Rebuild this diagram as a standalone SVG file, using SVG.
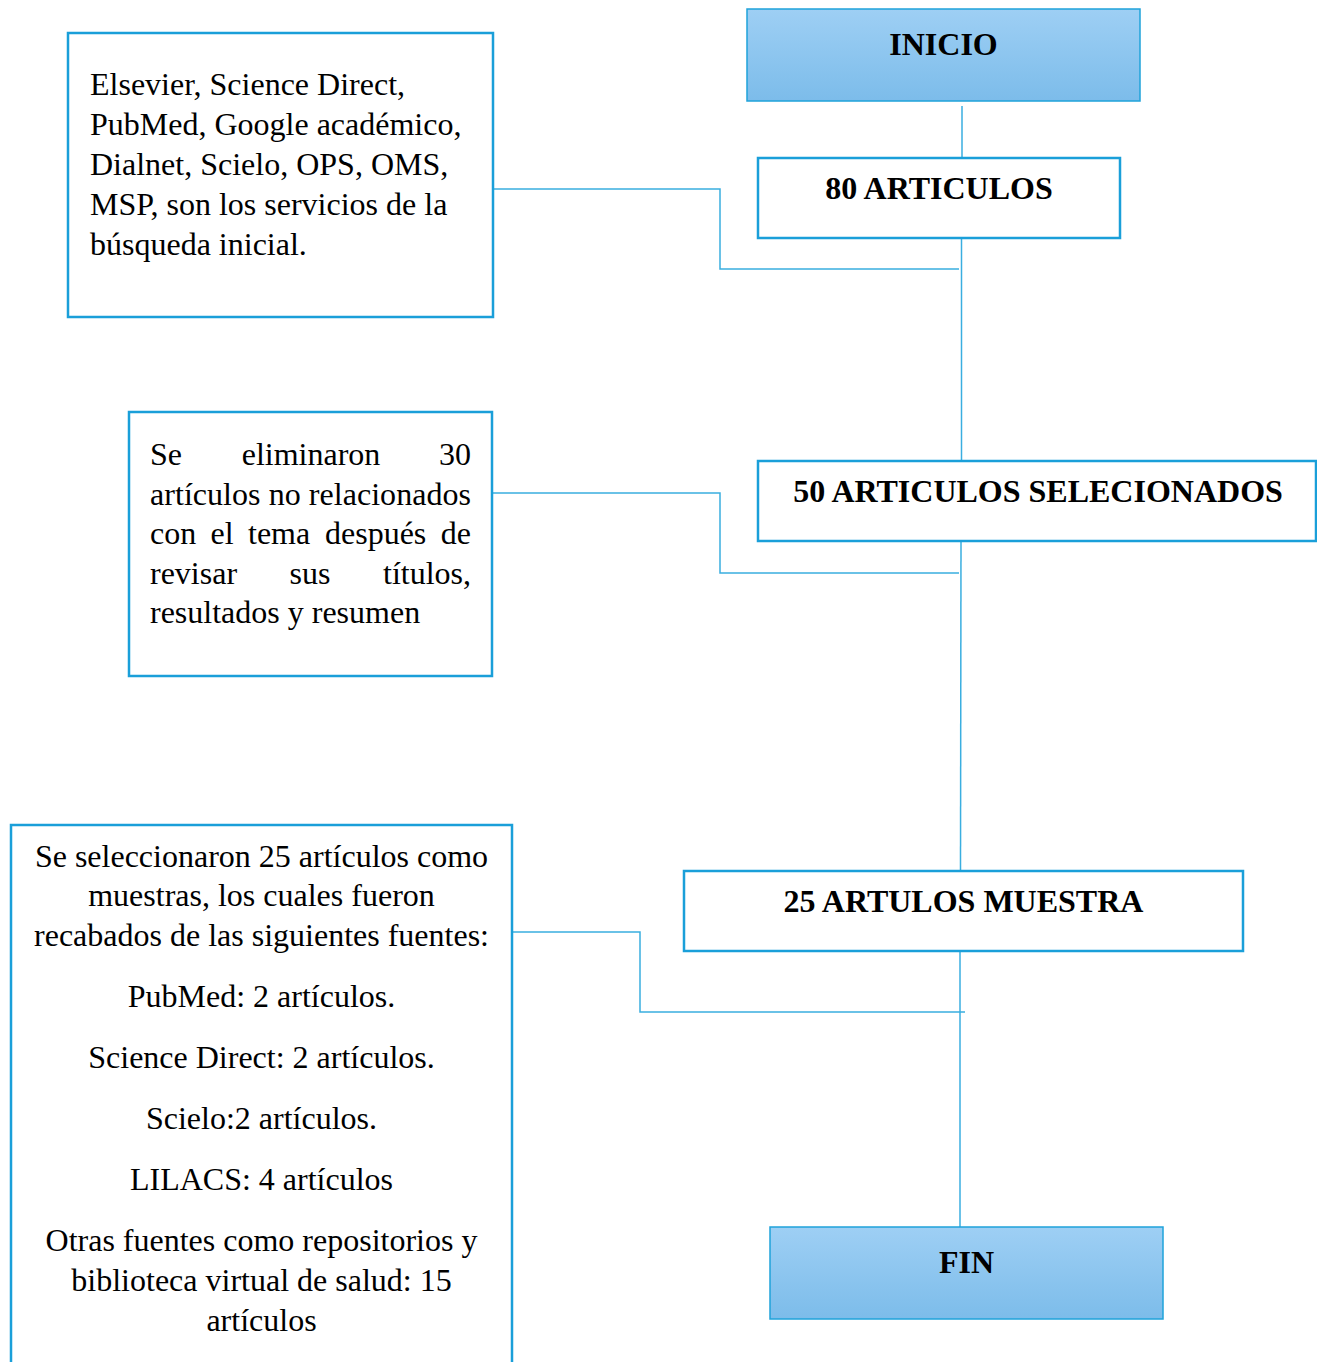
<svg xmlns="http://www.w3.org/2000/svg" width="1317" height="1362" viewBox="0 0 1317 1362">
<defs>
<linearGradient id="g" x1="0" y1="0" x2="0" y2="1">
<stop offset="0" stop-color="#9ecff4"/>
<stop offset="1" stop-color="#7cbcea"/>
</linearGradient>
<style>
.box{fill:#fff;stroke:#1a9fd9;stroke-width:2.5}
.gbox{fill:url(#g);stroke:#1fa3da;stroke-width:1.5}
.t{font-family:"Liberation Serif","Times New Roman",serif;font-size:32px;fill:#000}
.b{font-family:"Liberation Serif","Times New Roman",serif;font-size:32px;font-weight:bold;fill:#000;text-anchor:middle}
.c{text-anchor:middle}
.e{text-anchor:end}
.ln{fill:none;stroke:#3aaee0;stroke-width:1.5}
</style>
</defs>
<rect width="1317" height="1362" fill="#fff"/>
<g id="connectors">
<line class="ln" x1="962" y1="106" x2="962" y2="158"/>
<line class="ln" x1="961.5" y1="238" x2="961.5" y2="461"/>
<line class="ln" x1="961" y1="541" x2="960.5" y2="871"/>
<line class="ln" x1="960" y1="951" x2="960" y2="1227"/>
<polyline class="ln" points="493,189 720,189 720,269 959,269"/>
<polyline class="ln" points="492,493 720,493 720,573 959,573"/>
<polyline class="ln" points="512,932 640,932 640,1012 965,1012"/>
</g>
<g id="inicio">
<rect class="gbox" x="747" y="9" width="393" height="92"/>
<text class="b" x="943.5" y="55">INICIO</text>
</g>
<g id="n80">
<rect class="box" x="758" y="158" width="362" height="80"/>
<text class="b" x="939" y="199">80 ARTICULOS</text>
</g>
<g id="n50">
<rect class="box" x="758" y="461" width="558" height="80"/>
<text class="b" x="1038" y="502">50 ARTICULOS SELECIONADOS</text>
</g>
<g id="n25">
<rect class="box" x="684" y="871" width="559" height="80"/>
<text class="b" x="963.5" y="912">25 ARTULOS MUESTRA</text>
</g>
<g id="fin">
<rect class="gbox" x="770" y="1227" width="393" height="92"/>
<text class="b" x="966.5" y="1273">FIN</text>
</g>
<g id="fuentes">
<rect class="box" x="68" y="33" width="425" height="284"/>
<text class="t" x="90" y="95">Elsevier, Science Direct,</text>
<text class="t" x="90" y="135">PubMed, Google académico,</text>
<text class="t" x="90" y="175">Dialnet, Scielo, OPS, OMS,</text>
<text class="t" x="90" y="215">MSP, son los servicios de la</text>
<text class="t" x="90" y="255">búsqueda inicial.</text>
</g>
<g id="eliminados">
<rect class="box" x="129" y="412" width="363" height="264"/>
<text class="t" x="150" y="465">Se</text>
<text class="t c" x="311" y="465">eliminaron</text>
<text class="t e" x="471" y="465">30</text>
<text class="t" x="150" y="505" textLength="321" lengthAdjust="spacing">artículos no relacionados</text>
<text class="t" x="150" y="544">con</text>
<text class="t" x="210.5" y="544">el</text>
<text class="t" x="248" y="544">tema</text>
<text class="t" x="325" y="544">después</text>
<text class="t e" x="471" y="544">de</text>
<text class="t" x="150" y="584">revisar</text>
<text class="t c" x="310" y="584">sus</text>
<text class="t e" x="471" y="584">títulos,</text>
<text class="t" x="150" y="623">resultados y resumen</text>
</g>
<g id="muestra">
<rect class="box" x="11" y="825" width="501" height="560"/>
<text class="t c" x="261.5" y="867">Se seleccionaron 25 artículos como</text>
<text class="t c" x="261.5" y="906">muestras, los cuales fueron</text>
<text class="t c" x="261.5" y="946">recabados de las siguientes fuentes:</text>
<text class="t c" x="261.5" y="1007">PubMed: 2 artículos.</text>
<text class="t c" x="261.5" y="1068">Science Direct: 2 artículos.</text>
<text class="t c" x="261.5" y="1129">Scielo:2 artículos.</text>
<text class="t c" x="261.5" y="1190">LILACS: 4 artículos</text>
<text class="t c" x="261.5" y="1251">Otras fuentes como repositorios y</text>
<text class="t c" x="261.5" y="1291">biblioteca virtual de salud: 15</text>
<text class="t c" x="261.5" y="1331">artículos</text>
</g>
</svg>
